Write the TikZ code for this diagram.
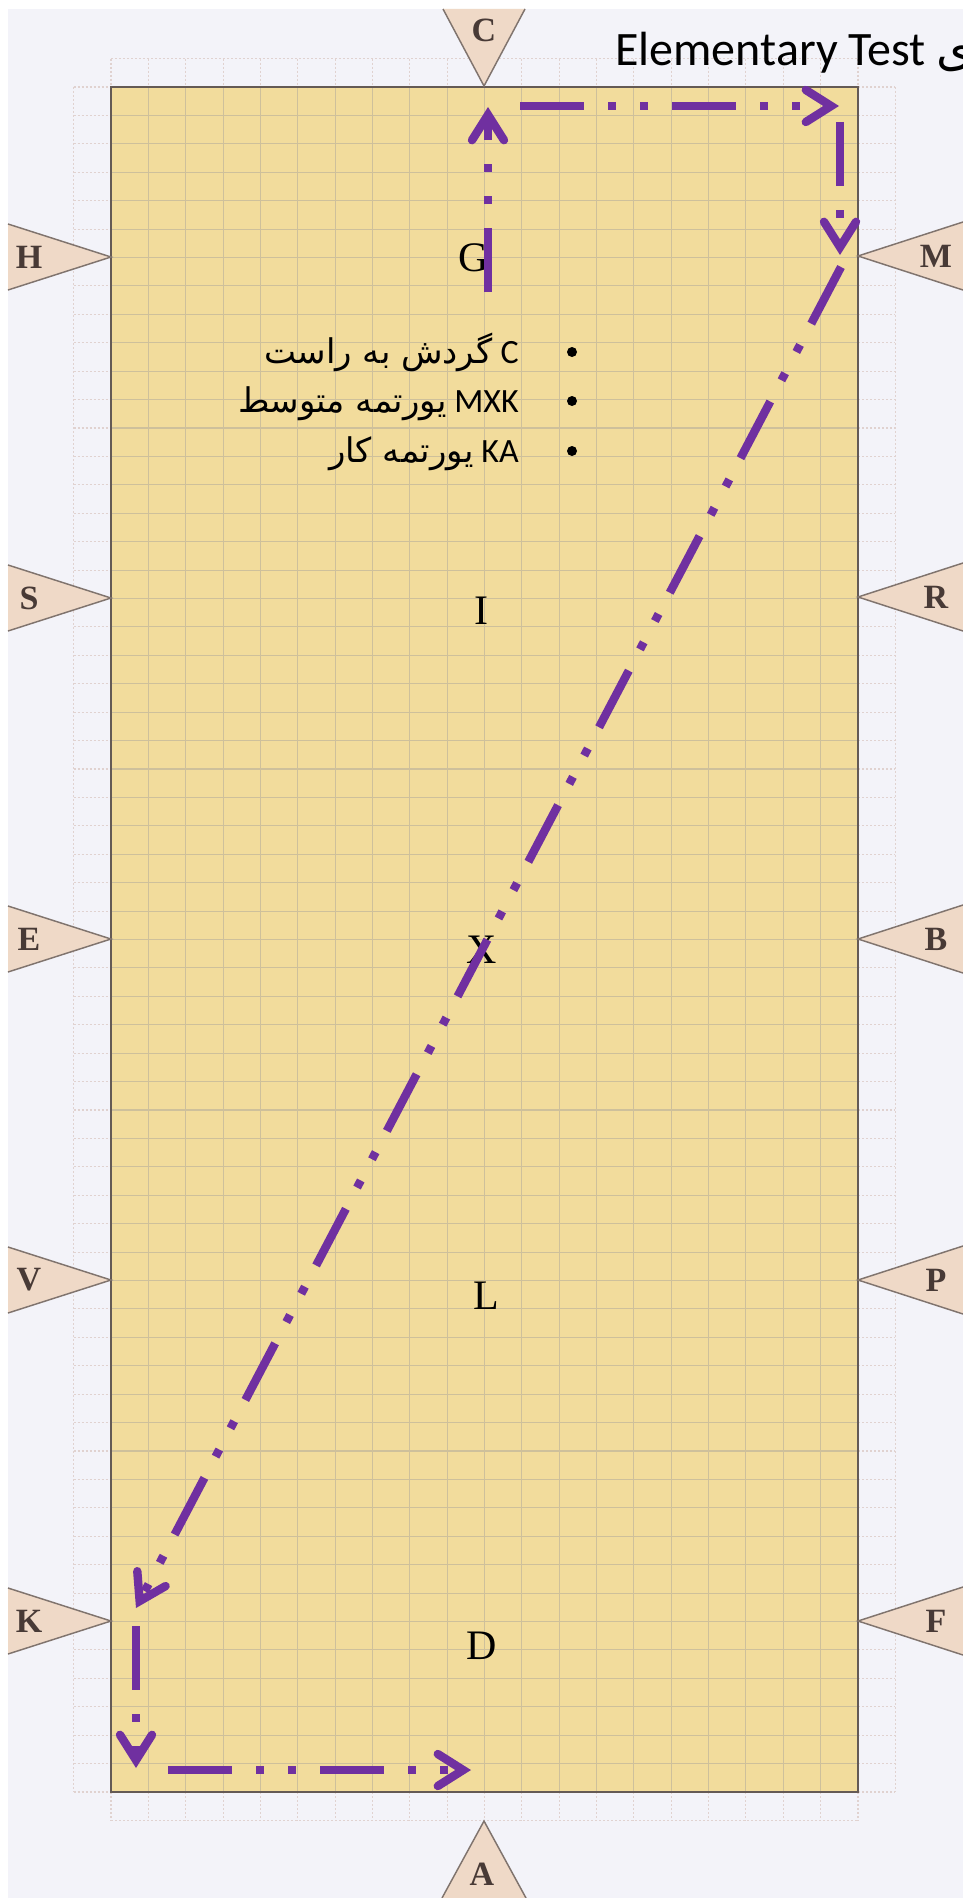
\documentclass[tikz,border=0pt]{standalone}
\usepackage{fontspec}
\setmainfont{Liberation Serif}
\newfontfamily\carlito{Carlito}
\newfontfamily\arabicfont[Script=Arabic]{DejaVu Sans}
\TeXXeTstate=1
\usetikzlibrary{arrows.meta}
\definecolor{bgpage}{RGB}{243,243,249}
\definecolor{arenafill}{RGB}{242,220,156}
\definecolor{gridin}{RGB}{206,192,155}
\definecolor{gridout}{RGB}{224,210,208}
\definecolor{arenaline}{RGB}{100,90,85}
\definecolor{mkfill}{RGB}{239,217,199}
\definecolor{mkline}{RGB}{128,116,110}
\definecolor{mktext}{RGB}{72,58,54}
\definecolor{ride}{RGB}{112,48,160}
\begin{document}
\begin{tikzpicture}[x=0.75pt,y=-0.75pt,
  gridinner/.style={draw=gridin, line width=0.8pt},
  gridouter/.style={draw=gridout, line width=0.8pt, dash pattern=on 1.5pt off 1.5pt},
  mkshape/.style={fill=mkfill},
  mkedge/.style={draw=mkline, line width=1.1pt, line join=miter},
  mkletter/.style={text=mktext, inner sep=0pt, font=\fontsize{25.5}{30}\selectfont\bfseries},
  cletter/.style={text=black, inner sep=0pt, font=\fontsize{31.5}{36}\selectfont},
  bullettext/.style={anchor=base east, inner sep=0pt, font=\fontsize{25.5}{30}\selectfont\carlito},
  bulletdot/.style={circle, fill=black, inner sep=0pt, minimum size=7.5pt},
  ridepath/.style={draw=ride, line width=6.3pt,
    dash pattern=on 48pt off 18pt on 6pt off 18pt on 6pt off 18pt,
    -{Straight Barb[length=19pt,width=24pt,line width=6.3pt,line cap=round,line join=miter]}}
]
\useasboundingbox (0,0) rectangle (963,1898);
% page
\fill[white] (0,0) rectangle (963,1898);
\fill[bgpage] (8,9) rectangle (963,1898);
% outer faint grid strips
\draw[gridouter] (111,58.58) -- (858,58.58);
\draw[gridouter] (111,1820.42) -- (858,1820.42);
\draw[gridouter] (73.65,87) -- (73.65,1792);
\draw[gridouter] (895.35,87) -- (895.35,1792);
\foreach \i in {0,...,20} {
  \draw[gridouter] ({111+\i*37.35},58.58) -- ({111+\i*37.35},87);
  \draw[gridouter] ({111+\i*37.35},1792) -- ({111+\i*37.35},1820.42);
}
\foreach \j in {0,...,60} {
  \draw[gridouter] (73.65,{87+\j*28.4167}) -- (111,{87+\j*28.4167});
  \draw[gridouter] (858,{87+\j*28.4167}) -- (895.35,{87+\j*28.4167});
}
% arena
\fill[arenafill] (111,87) rectangle (858,1792);
\foreach \i in {1,...,19}
  \draw[gridinner] ({111+\i*37.35},87) -- ({111+\i*37.35},1792);
\foreach \j in {1,...,59}
  \draw[gridinner] (111,{87+\j*28.4167}) -- (858,{87+\j*28.4167});
\draw[arenaline, line width=1.5pt] (111,87) rectangle (858,1792);
% left markers
\foreach \n/\yy in {H/257,S/598,E/939,V/1280,K/1621} {
  \fill[mkshape] (8,{\yy-33}) -- (111,\yy) -- (8,{\yy+33}) -- cycle;
  \draw[mkedge] (8,{\yy-33}) -- (111,\yy) -- (8,{\yy+33});
  \node[mkletter] (m\n) at (29,\yy) {\n};
}
% right markers
\foreach \n/\yy in {M/256,R/597,B/939,P/1280,F/1621} {
  \fill[mkshape] (963,{\yy-34}) -- (858,\yy) -- (963,{\yy+34}) -- cycle;
  \draw[mkedge] (963,{\yy-34}) -- (858,\yy) -- (963,{\yy+34});
  \node[mkletter] (m\n) at (936,\yy) {\n};
}
% top and bottom markers
\fill[mkshape] (443,9) -- (484,86) -- (525,9) -- cycle;
\draw[mkedge] (443,9) -- (484,86) -- (525,9);
\node[mkletter] (mC) at (484,30) {C};
\fill[mkshape] (442,1898) -- (484,1821) -- (526,1898) -- cycle;
\draw[mkedge] (442,1898) -- (484,1821) -- (526,1898);
\node[mkletter] (mA) at (482,1874) {A};
% centre line letters
\node[cletter] (lG) at (474,258) {G};
\node[cletter] (lI) at (481,611) {I};
\node[cletter] (lX) at (482,950) {X};
\node[cletter] (lL) at (486,1296) {L};
\node[cletter] (lD) at (482,1646) {D};
% title
\node[anchor=base west, inner sep=0pt, font=\fontsize{36}{42}\selectfont\carlito] (title) at (615,66)
  {Elementary Test {\arabicfont ی}};
% bullets
\node[bulletdot] (b1) at (572,352) {};
\node[bulletdot] (b2) at (572,401) {};
\node[bulletdot] (b3) at (572,451) {};
\node[bullettext] (t1) at (519,363) {{\arabicfont\beginR گردش به راست\endR}\ C};
\node[bullettext] (t2) at (519,412) {{\arabicfont\beginR یورتمه متوسط\endR}\ MXK};
\node[bullettext] (t3) at (519,462) {{\arabicfont\beginR یورتمه کار\endR}\ KA};
% ride path
\coordinate (g0) at (488,292);  \coordinate (c1) at (488,107);
\coordinate (h0) at (520,106);  \coordinate (h1) at (839,106);
\coordinate (v0) at (840,122);  \coordinate (v1) at (840,255);
\coordinate (d0) at (841,267);  \coordinate (d1) at (136,1608);
\coordinate (k0) at (136,1626); \coordinate (k1) at (136,1768);
\coordinate (a0) at (168,1770); \coordinate (a1) at (471,1770);
\draw[ridepath] (g0) -- (c1);
\draw[ridepath] (h0) -- (h1);
\draw[ridepath] (v0) -- (v1);
\draw[ridepath] (d0) -- (d1);
\draw[ridepath] (k0) -- (k1);
\draw[ridepath] (a0) -- (a1);
\end{tikzpicture}
\end{document}
